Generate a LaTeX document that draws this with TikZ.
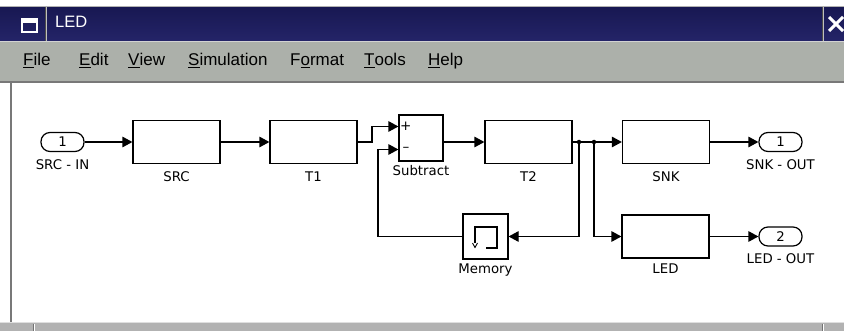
\documentclass[tikz,border=0pt]{standalone}
\usepackage{fontspec}
\setmainfont{Liberation Sans}
\newfontfamily\blockfont{DejaVu Sans}
\usetikzlibrary{arrows.meta,calc}

\definecolor{titlebar}{RGB}{24,24,82}
\definecolor{titlebarlight}{RGB}{36,36,104}
\definecolor{menubar}{RGB}{172,176,170}
\definecolor{statusbar}{RGB}{178,178,178}
\definecolor{frameline}{RGB}{120,120,120}

\tikzset{
  blk/.style={draw, line width=1.2pt, minimum width=87pt, minimum height=43pt, inner sep=0pt},
  sqblk/.style={draw, line width=1.2pt, minimum width=45pt, minimum height=45pt, inner sep=0pt},
  portblk/.style={draw, line width=1.2pt, rounded corners=9pt, minimum width=43pt, minimum height=19pt,
    inner sep=0pt, font=\blockfont\fontsize{13.3}{15}\selectfont},
  lab/.style={font=\blockfont\fontsize{13.3}{15}\selectfont, inner sep=0pt, anchor=mid},
  sign/.style={font=\blockfont\fontsize{13.5}{15}\selectfont, inner sep=0pt},
  menu/.style={font=\fontsize{17}{19}\selectfont, inner sep=0pt, anchor=mid west},
  wire/.style={line width=1.2pt},
  arr/.style={wire, -{Triangle[length=10pt,width=10.5pt]}},
  branch/.style={circle, fill, inner sep=0pt, minimum size=4.5pt},
}

\begin{document}
\begin{tikzpicture}[x=1pt, y=-1pt]
  % page area
  \useasboundingbox (0,0) rectangle (844,331);
  \fill[white] (0,0) rectangle (844,331);

  % ---- window title bar ----
  \shade[top color=titlebar, bottom color=titlebarlight] (0,7) rectangle (844,41);
  \draw[gray!60, line width=1pt] (0,7) -- (844,7);
  % window icon
  \draw[white, line width=1.5pt] (22,19) rectangle (37,32);
  \fill[white] (22,19) rectangle (37,23);
  \draw[black!70, line width=1pt] (45,7) -- (45,41);
  \draw[gray!50, line width=0.6pt] (46.2,7) -- (46.2,41);
  \node[white, font=\fontsize{16.5}{18}\selectfont, inner sep=0pt, anchor=mid west] (title) at (55,25) {LED};
  % close button
  \draw[black!70, line width=1pt] (822,7) -- (822,41);
  \draw[gray!50, line width=0.6pt] (823.2,7) -- (823.2,41);
  \draw[white, line width=3pt] (829,17) -- (843,31) (829,31) -- (843,17);

  % ---- menu bar ----
  \fill[menubar] (0,41) rectangle (844,82);
  \draw[gray!35, line width=1pt] (0,42) -- (844,42);
  \draw[frameline, line width=1.2pt] (0,82) -- (844,82);
  \node[menu] (mfile)  at (23,63)  {\underline{F}ile};
  \node[menu] (medit)  at (79,63)  {\underline{E}dit};
  \node[menu] (mview)  at (128,63) {\underline{V}iew};
  \node[menu] (msim)   at (188,63) {\underline{S}imulation};
  \node[menu] (mform)  at (290,63) {F\underline{o}rmat};
  \node[menu] (mtools) at (364,63) {\underline{T}ools};
  \node[menu] (mhelp)  at (428,63) {\underline{H}elp};

  % ---- canvas frame ----
  \draw[frameline, line width=1.2pt] (11,82) -- (11,322);

  % ---- status bar ----
  \fill[statusbar] (0,322) rectangle (844,331);
  \draw[gray!25, line width=1pt] (0,322.5) -- (844,322.5);
  \draw[black!55, line width=1pt] (33,324) -- (33,331) (822,324) -- (822,331);
  \draw[white, line width=0.6pt] (34.2,324) -- (34.2,331) (823.2,324) -- (823.2,331);

  % ---- blocks ----
  \node[portblk] (in1)  at (62.5,142)  {1};
  \node[blk]     (src)  at (176.5,142) {};
  \node[blk]     (t1)   at (313.5,142) {};
  \node[draw, line width=1.2pt, minimum width=44pt, minimum height=46pt, inner sep=0pt] (sub) at (421,138) {};
  \node[blk]     (t2)   at (528.5,142) {};
  \node[blk]     (snk)  at (666,142)   {};
  \node[portblk] (out1) at (780.5,142) {1};
  \node[sqblk]   (mem)  at (485.5,236.5) {};
  \node[blk]     (led)  at (665.5,236.5) {};
  \node[portblk] (out2) at (780.5,236.5) {2};

  % subtract input ports and signs
  \coordinate (subp) at ($(sub.west)+(0,-11.5)$);
  \coordinate (subm) at ($(sub.west)+(0,11.5)$);
  \node[sign] (plus)  at ($(subp)+(7.5,0)$) {+};
  \node[sign] (minus) at ($(subm)+(7.5,0)$) {\textendash};

  % memory icon
  \draw[line width=1.2pt] (486,248) -- (497,248) -- (497,227) -- (475,227) -- (475,243);
  \draw[line width=0.9pt] (472.5,243) -- (475,247.5) -- (477.5,243);

  % ---- labels ----
  \node[lab] (lin1)  at (62.5,167)  {SRC - IN};
  \node[lab] (lsrc)  at (176.5,179) {SRC};
  \node[lab] (lt1)   at (313.5,179) {T1};
  \node[lab] (lsub)  at (421,173)   {Subtract};
  \node[lab] (lt2)   at (528.5,179) {T2};
  \node[lab] (lsnk)  at (666,179)   {SNK};
  \node[lab] (lout1) at (780.5,167) {SNK - OUT};
  \node[lab] (lmem)  at (485.5,271) {Memory};
  \node[lab] (lled)  at (665.5,271) {LED};
  \node[lab] (lout2) at (780.5,261) {LED - OUT};

  % ---- connectors ----
  \coordinate (jog) at (372,142);
  \coordinate (fb)  at (378,150);
  \coordinate (b1)  at (579,142);
  \coordinate (b2)  at (594,142);

  \draw[arr] (in1.east) -- (src.west);
  \draw[arr] (src.east) -- (t1.west);
  \draw[arr] (t1.east) -- (jog) |- (subp);
  \draw[arr] (mem.west) -| (fb) |- (subm);
  \draw[arr] (sub.east |- t2.west) -- (t2.west);
  \draw[arr] (t2.east) -- (snk.west);
  \draw[arr] (b1) |- (mem.east);
  \draw[arr] (b2) |- (led.west);
  \draw[arr] (snk.east) -- (out1.west);
  \draw[arr] (led.east) -- (out2.west);
  \node[branch] (d1) at (b1) {};
  \node[branch] (d2) at (b2) {};
\end{tikzpicture}
\end{document}
